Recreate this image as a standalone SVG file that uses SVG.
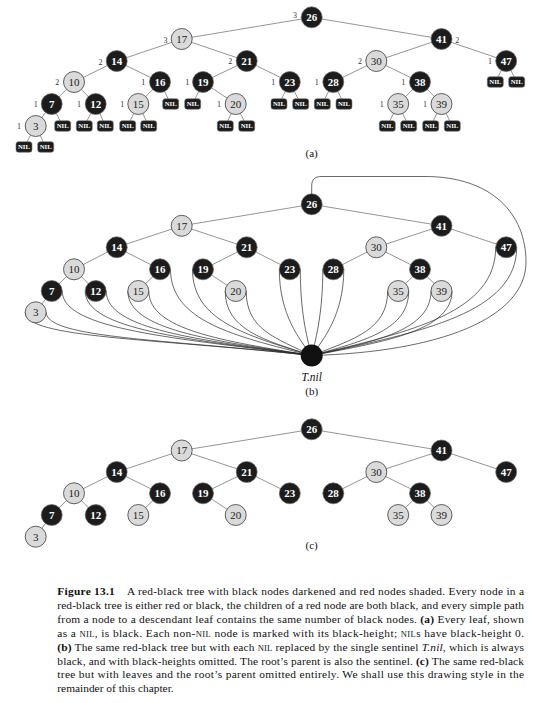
<svg xmlns="http://www.w3.org/2000/svg" width="558" height="703" viewBox="0 0 558 703">
<style>
.e{stroke:#7a7a7a;stroke-width:.8;fill:none}
.cv{stroke:#2a2a2a;stroke-width:.7;fill:none}
.b circle{fill:#1c1c1c;stroke:#6a6a6a;stroke-width:.7}
.r circle{fill:#dadada;stroke:#3a3a3a;stroke-width:.8}
.b text,.r text{font-family:"Liberation Serif",serif;font-size:11px;text-anchor:middle}
.b text{fill:#fff;font-weight:bold}
.r text{fill:#222}
.b text.bh,.r text.bh{font-size:8px;font-weight:normal;fill:#333}
.nil rect{fill:#1c1c1c;stroke:#777;stroke-width:.6}
.nil text{fill:#fff;font-family:"Liberation Serif",serif;font-weight:bold;font-size:6.8px;text-anchor:middle}
.lbl{font-family:"Liberation Serif",serif;font-size:11px;text-anchor:middle;fill:#111}
.cap{font-family:"Liberation Serif",serif;font-size:11.4px;fill:#111}
.sc{font-size:8.6px}
</style>
<rect width="558" height="703" fill="#fff"/>

<!-- ===== (a) ===== -->
<g id="a-connectors">
<path class="e" d="M311.7,17.3L181.7,39"/>
<path class="e" d="M311.7,17.3L441.5,39"/>
<path class="e" d="M181.7,39L116.7,61"/>
<path class="e" d="M181.7,39L246.7,61"/>
<path class="e" d="M441.5,39L376.3,61"/>
<path class="e" d="M441.5,39L506.2,61"/>
<path class="e" d="M116.7,61L74,82"/>
<path class="e" d="M116.7,61L160,82"/>
<path class="e" d="M246.7,61L203,82"/>
<path class="e" d="M246.7,61L289.8,82"/>
<path class="e" d="M376.3,61L333.3,82"/>
<path class="e" d="M376.3,61L420,82"/>
<path class="e" d="M74,82L51.7,104"/>
<path class="e" d="M74,82L95.7,104"/>
<path class="e" d="M160,82L138.3,104"/>
<path class="e" d="M203,82L235.7,104"/>
<path class="e" d="M420,82L398.2,104"/>
<path class="e" d="M420,82L441.5,104"/>
<path class="e" d="M51.7,104L35.7,126"/>
<path class="e" d="M35.7,126L24,147"/>
<path class="e" d="M35.7,126L45.7,147"/>
<path class="e" d="M51.7,104L62.7,126"/>
<path class="e" d="M95.7,104L84.3,126"/>
<path class="e" d="M95.7,104L105.3,126"/>
<path class="e" d="M138.3,104L127.7,126"/>
<path class="e" d="M138.3,104L148.7,126"/>
<path class="e" d="M160,82L170.7,104"/>
<path class="e" d="M203,82L192.7,104"/>
<path class="e" d="M235.7,104L225.3,126"/>
<path class="e" d="M235.7,104L246.7,126"/>
<path class="e" d="M289.8,82L279,104"/>
<path class="e" d="M289.8,82L300.7,104"/>
<path class="e" d="M333.3,82L322.3,104"/>
<path class="e" d="M333.3,82L344,104"/>
<path class="e" d="M398.2,104L387.3,126"/>
<path class="e" d="M398.2,104L408.7,126"/>
<path class="e" d="M441.5,104L430.7,126"/>
<path class="e" d="M441.5,104L452.3,126"/>
<path class="e" d="M506.2,61L495.3,82"/>
<path class="e" d="M506.2,61L516.7,82"/>
</g>
<g id="a-26" class="b" transform="translate(311.7,17.3)"><circle r="10.5"/><text y="3.8">26</text><text class="bh" x="-16.7" y="0.3">3</text></g>
<g id="a-17" class="r" transform="translate(181.7,39)"><circle r="10.5"/><text y="3.8">17</text><text class="bh" x="-16.2" y="3.5">3</text></g>
<g id="a-41" class="b" transform="translate(441.5,39)"><circle r="10.5"/><text y="3.8">41</text><text class="bh" x="15.8" y="3.5">2</text></g>
<g id="a-14" class="b" transform="translate(116.7,61)"><circle r="10.5"/><text y="3.8">14</text><text class="bh" x="-16.2" y="3.5">2</text></g>
<g id="a-21" class="b" transform="translate(246.7,61)"><circle r="10.5"/><text y="3.8">21</text><text class="bh" x="-16.5" y="3.2">2</text></g>
<g id="a-30" class="r" transform="translate(376.3,61)"><circle r="10.5"/><text y="3.8">30</text><text class="bh" x="-16.3" y="3.2">2</text></g>
<g id="a-47" class="b" transform="translate(506.2,61)"><circle r="10.5"/><text y="3.8">47</text><text class="bh" x="-16.2" y="3.4">1</text></g>
<g id="a-10" class="r" transform="translate(74,82)"><circle r="10.5"/><text y="3.8">10</text><text class="bh" x="-16.7" y="3">2</text></g>
<g id="a-16" class="b" transform="translate(160,82)"><circle r="10.5"/><text y="3.8">16</text><text class="bh" x="-16.7" y="3">1</text></g>
<g id="a-19" class="b" transform="translate(203,82)"><circle r="10.5"/><text y="3.8">19</text><text class="bh" x="-15.7" y="3">1</text></g>
<g id="a-23" class="b" transform="translate(289.8,82)"><circle r="10.5"/><text y="3.8">23</text><text class="bh" x="-16.5" y="3">1</text></g>
<g id="a-28" class="b" transform="translate(333.3,82)"><circle r="10.5"/><text y="3.8">28</text><text class="bh" x="-16.6" y="3">1</text></g>
<g id="a-38" class="b" transform="translate(420,82)"><circle r="10.5"/><text y="3.8">38</text><text class="bh" x="-16.7" y="3">1</text></g>
<g id="a-7" class="b" transform="translate(51.7,104)"><circle r="10.5"/><text y="3.8">7</text><text class="bh" x="-16" y="3">1</text></g>
<g id="a-12" class="b" transform="translate(95.7,104)"><circle r="10.5"/><text y="3.8">12</text><text class="bh" x="-16.7" y="3">1</text></g>
<g id="a-15" class="r" transform="translate(138.3,104)"><circle r="10.5"/><text y="3.8">15</text><text class="bh" x="-16" y="3">1</text></g>
<g id="a-20" class="r" transform="translate(235.7,104)"><circle r="10.5"/><text y="3.8">20</text><text class="bh" x="-16.7" y="3">1</text></g>
<g id="a-35" class="r" transform="translate(398.2,104)"><circle r="10.5"/><text y="3.8">35</text><text class="bh" x="-16.5" y="3">1</text></g>
<g id="a-39" class="r" transform="translate(441.5,104)"><circle r="10.5"/><text y="3.8">39</text><text class="bh" x="-16.5" y="3">1</text></g>
<g id="a-3" class="r" transform="translate(35.7,126)"><circle r="10.5"/><text y="3.8">3</text><text class="bh" x="-16.7" y="3">1</text></g>
<g id="a-nil-3L" class="nil" transform="translate(24,147)"><rect x="-8" y="-5.3" width="16" height="10.6" rx="2.5"/><text y="2.4">NIL</text></g>
<g id="a-nil-3R" class="nil" transform="translate(45.7,147)"><rect x="-8" y="-5.3" width="16" height="10.6" rx="2.5"/><text y="2.4">NIL</text></g>
<g id="a-nil-7R" class="nil" transform="translate(62.7,126)"><rect x="-8" y="-5.3" width="16" height="10.6" rx="2.5"/><text y="2.4">NIL</text></g>
<g id="a-nil-12L" class="nil" transform="translate(84.3,126)"><rect x="-8" y="-5.3" width="16" height="10.6" rx="2.5"/><text y="2.4">NIL</text></g>
<g id="a-nil-12R" class="nil" transform="translate(105.3,126)"><rect x="-8" y="-5.3" width="16" height="10.6" rx="2.5"/><text y="2.4">NIL</text></g>
<g id="a-nil-15L" class="nil" transform="translate(127.7,126)"><rect x="-8" y="-5.3" width="16" height="10.6" rx="2.5"/><text y="2.4">NIL</text></g>
<g id="a-nil-15R" class="nil" transform="translate(148.7,126)"><rect x="-8" y="-5.3" width="16" height="10.6" rx="2.5"/><text y="2.4">NIL</text></g>
<g id="a-nil-16R" class="nil" transform="translate(170.7,104)"><rect x="-8" y="-5.3" width="16" height="10.6" rx="2.5"/><text y="2.4">NIL</text></g>
<g id="a-nil-19L" class="nil" transform="translate(192.7,104)"><rect x="-8" y="-5.3" width="16" height="10.6" rx="2.5"/><text y="2.4">NIL</text></g>
<g id="a-nil-20L" class="nil" transform="translate(225.3,126)"><rect x="-8" y="-5.3" width="16" height="10.6" rx="2.5"/><text y="2.4">NIL</text></g>
<g id="a-nil-20R" class="nil" transform="translate(246.7,126)"><rect x="-8" y="-5.3" width="16" height="10.6" rx="2.5"/><text y="2.4">NIL</text></g>
<g id="a-nil-23L" class="nil" transform="translate(279,104)"><rect x="-8" y="-5.3" width="16" height="10.6" rx="2.5"/><text y="2.4">NIL</text></g>
<g id="a-nil-23R" class="nil" transform="translate(300.7,104)"><rect x="-8" y="-5.3" width="16" height="10.6" rx="2.5"/><text y="2.4">NIL</text></g>
<g id="a-nil-28L" class="nil" transform="translate(322.3,104)"><rect x="-8" y="-5.3" width="16" height="10.6" rx="2.5"/><text y="2.4">NIL</text></g>
<g id="a-nil-28R" class="nil" transform="translate(344,104)"><rect x="-8" y="-5.3" width="16" height="10.6" rx="2.5"/><text y="2.4">NIL</text></g>
<g id="a-nil-35L" class="nil" transform="translate(387.3,126)"><rect x="-8" y="-5.3" width="16" height="10.6" rx="2.5"/><text y="2.4">NIL</text></g>
<g id="a-nil-35R" class="nil" transform="translate(408.7,126)"><rect x="-8" y="-5.3" width="16" height="10.6" rx="2.5"/><text y="2.4">NIL</text></g>
<g id="a-nil-39L" class="nil" transform="translate(430.7,126)"><rect x="-8" y="-5.3" width="16" height="10.6" rx="2.5"/><text y="2.4">NIL</text></g>
<g id="a-nil-39R" class="nil" transform="translate(452.3,126)"><rect x="-8" y="-5.3" width="16" height="10.6" rx="2.5"/><text y="2.4">NIL</text></g>
<g id="a-nil-47L" class="nil" transform="translate(495.3,82)"><rect x="-8" y="-5.3" width="16" height="10.6" rx="2.5"/><text y="2.4">NIL</text></g>
<g id="a-nil-47R" class="nil" transform="translate(516.7,82)"><rect x="-8" y="-5.3" width="16" height="10.6" rx="2.5"/><text y="2.4">NIL</text></g>
<text class="lbl" x="311.7" y="156.8">(a)</text>

<!-- ===== (b) ===== -->
<g id="b-connectors">
<path class="cv" d="M25.2,312.3C25.2,338.2 154.1,338.3 311.7,355.5"/>
<path class="cv" d="M46.2,312.3C46.2,338.2 165.7,339.3 311.7,355.5"/>
<path class="cv" d="M62.2,291C62.2,329.7 174.5,338.1 311.7,355.5"/>
<path class="cv" d="M85.2,291C85.2,329.7 187.1,339.1 311.7,355.5"/>
<path class="cv" d="M106.2,291C106.2,329.7 198.7,339.8 311.7,355.5"/>
<path class="cv" d="M127.8,291C127.8,329.7 210.6,340.4 311.7,355.5"/>
<path class="cv" d="M148.8,291C148.8,329.7 222.1,340.9 311.7,355.5"/>
<path class="cv" d="M170.5,269.3C170.5,321 234,336.2 311.7,355.5"/>
<path class="cv" d="M192.5,269.3C192.5,321 246.1,335.2 311.7,355.5"/>
<path class="cv" d="M225.2,291C225.2,329.7 264.1,340.1 311.7,355.5"/>
<path class="cv" d="M246.2,291C246.2,329.7 275.7,337.9 311.7,355.5"/>
<path class="cv" d="M279.3,269.3C279.3,315 300,340 311.7,355.5"/>
<path class="cv" d="M300.3,269.3C300.3,310 306,335 311.7,355.5"/>
<path class="cv" d="M322.8,269.3C322.8,310 317,335 311.7,355.5"/>
<path class="cv" d="M343.8,269.3C343.8,315 323,340 311.7,355.5"/>
<path class="cv" d="M387.7,291C387.7,329.7 353.5,339.3 311.7,355.5"/>
<path class="cv" d="M408.7,291C408.7,329.7 365.1,340.7 311.7,355.5"/>
<path class="cv" d="M431,291C431,329.7 377.3,341.3 311.7,355.5"/>
<path class="cv" d="M452,291C452,329.7 388.9,341.2 311.7,355.5"/>
<path class="cv" d="M495.7,247.3C495.7,312.2 412.9,331.4 311.7,355.5"/>
<path class="cv" d="M516.7,247.3C516.7,312.2 424.5,331.7 311.7,355.5"/>
<path class="cv" d="M311.7,204.3L311.7,186C311.7,179 315,176.5 322,176.5L425,176.5C492,176.5 526,214 526,262C526,318 440,352 311.7,355.5"/>
<path class="e" d="M311.7,204.3L181.7,225.8"/>
<path class="e" d="M311.7,204.3L441.5,225.8"/>
<path class="e" d="M181.7,225.8L116.7,247.3"/>
<path class="e" d="M181.7,225.8L246.7,247.3"/>
<path class="e" d="M441.5,225.8L376.3,247.3"/>
<path class="e" d="M441.5,225.8L506.2,247.3"/>
<path class="e" d="M116.7,247.3L74,269.3"/>
<path class="e" d="M116.7,247.3L160,269.3"/>
<path class="e" d="M246.7,247.3L203,269.3"/>
<path class="e" d="M246.7,247.3L289.8,269.3"/>
<path class="e" d="M376.3,247.3L333.3,269.3"/>
<path class="e" d="M376.3,247.3L420,269.3"/>
<path class="e" d="M74,269.3L51.7,291"/>
<path class="e" d="M74,269.3L95.7,291"/>
<path class="e" d="M160,269.3L138.3,291"/>
<path class="e" d="M203,269.3L235.7,291"/>
<path class="e" d="M420,269.3L398.2,291"/>
<path class="e" d="M420,269.3L441.5,291"/>
<path class="e" d="M51.7,291L35.7,312.3"/>
</g>
<g id="b-26" class="b" transform="translate(311.7,204.3)"><circle r="10.5"/><text y="3.8">26</text></g>
<g id="b-17" class="r" transform="translate(181.7,225.8)"><circle r="10.5"/><text y="3.8">17</text></g>
<g id="b-41" class="b" transform="translate(441.5,225.8)"><circle r="10.5"/><text y="3.8">41</text></g>
<g id="b-14" class="b" transform="translate(116.7,247.3)"><circle r="10.5"/><text y="3.8">14</text></g>
<g id="b-21" class="b" transform="translate(246.7,247.3)"><circle r="10.5"/><text y="3.8">21</text></g>
<g id="b-30" class="r" transform="translate(376.3,247.3)"><circle r="10.5"/><text y="3.8">30</text></g>
<g id="b-47" class="b" transform="translate(506.2,247.3)"><circle r="10.5"/><text y="3.8">47</text></g>
<g id="b-10" class="r" transform="translate(74,269.3)"><circle r="10.5"/><text y="3.8">10</text></g>
<g id="b-16" class="b" transform="translate(160,269.3)"><circle r="10.5"/><text y="3.8">16</text></g>
<g id="b-19" class="b" transform="translate(203,269.3)"><circle r="10.5"/><text y="3.8">19</text></g>
<g id="b-23" class="b" transform="translate(289.8,269.3)"><circle r="10.5"/><text y="3.8">23</text></g>
<g id="b-28" class="b" transform="translate(333.3,269.3)"><circle r="10.5"/><text y="3.8">28</text></g>
<g id="b-38" class="b" transform="translate(420,269.3)"><circle r="10.5"/><text y="3.8">38</text></g>
<g id="b-7" class="b" transform="translate(51.7,291)"><circle r="10.5"/><text y="3.8">7</text></g>
<g id="b-12" class="b" transform="translate(95.7,291)"><circle r="10.5"/><text y="3.8">12</text></g>
<g id="b-15" class="r" transform="translate(138.3,291)"><circle r="10.5"/><text y="3.8">15</text></g>
<g id="b-20" class="r" transform="translate(235.7,291)"><circle r="10.5"/><text y="3.8">20</text></g>
<g id="b-35" class="r" transform="translate(398.2,291)"><circle r="10.5"/><text y="3.8">35</text></g>
<g id="b-39" class="r" transform="translate(441.5,291)"><circle r="10.5"/><text y="3.8">39</text></g>
<g id="b-3" class="r" transform="translate(35.7,312.3)"><circle r="10.5"/><text y="3.8">3</text></g>
<g id="b-Tnil" transform="translate(311.7,355.5)"><circle r="11" fill="#111"/><text x="0" y="25" font-family="'Liberation Serif',serif" font-size="11.5" font-style="italic" text-anchor="middle" fill="#111">T.nil</text></g>
<text class="lbl" x="311.7" y="395">(b)</text>

<!-- ===== (c) ===== -->
<g id="c-connectors">
<path class="e" d="M311.7,429.3L181.7,450.5"/>
<path class="e" d="M311.7,429.3L441.5,450.5"/>
<path class="e" d="M181.7,450.5L116.7,472"/>
<path class="e" d="M181.7,450.5L246.7,472"/>
<path class="e" d="M441.5,450.5L376.3,472"/>
<path class="e" d="M441.5,450.5L506.2,472"/>
<path class="e" d="M116.7,472L74,493.3"/>
<path class="e" d="M116.7,472L160,493.3"/>
<path class="e" d="M246.7,472L203,493.3"/>
<path class="e" d="M246.7,472L289.8,493.3"/>
<path class="e" d="M376.3,472L333.3,493.3"/>
<path class="e" d="M376.3,472L420,493.3"/>
<path class="e" d="M74,493.3L51.7,515"/>
<path class="e" d="M74,493.3L95.7,515"/>
<path class="e" d="M160,493.3L138.3,515"/>
<path class="e" d="M203,493.3L235.7,515"/>
<path class="e" d="M420,493.3L398.2,515"/>
<path class="e" d="M420,493.3L441.5,515"/>
<path class="e" d="M51.7,515L35.7,536.7"/>
</g>
<g id="c-26" class="b" transform="translate(311.7,429.3)"><circle r="10.5"/><text y="3.8">26</text></g>
<g id="c-17" class="r" transform="translate(181.7,450.5)"><circle r="10.5"/><text y="3.8">17</text></g>
<g id="c-41" class="b" transform="translate(441.5,450.5)"><circle r="10.5"/><text y="3.8">41</text></g>
<g id="c-14" class="b" transform="translate(116.7,472)"><circle r="10.5"/><text y="3.8">14</text></g>
<g id="c-21" class="b" transform="translate(246.7,472)"><circle r="10.5"/><text y="3.8">21</text></g>
<g id="c-30" class="r" transform="translate(376.3,472)"><circle r="10.5"/><text y="3.8">30</text></g>
<g id="c-47" class="b" transform="translate(506.2,472)"><circle r="10.5"/><text y="3.8">47</text></g>
<g id="c-10" class="r" transform="translate(74,493.3)"><circle r="10.5"/><text y="3.8">10</text></g>
<g id="c-16" class="b" transform="translate(160,493.3)"><circle r="10.5"/><text y="3.8">16</text></g>
<g id="c-19" class="b" transform="translate(203,493.3)"><circle r="10.5"/><text y="3.8">19</text></g>
<g id="c-23" class="b" transform="translate(289.8,493.3)"><circle r="10.5"/><text y="3.8">23</text></g>
<g id="c-28" class="b" transform="translate(333.3,493.3)"><circle r="10.5"/><text y="3.8">28</text></g>
<g id="c-38" class="b" transform="translate(420,493.3)"><circle r="10.5"/><text y="3.8">38</text></g>
<g id="c-7" class="b" transform="translate(51.7,515)"><circle r="10.5"/><text y="3.8">7</text></g>
<g id="c-12" class="b" transform="translate(95.7,515)"><circle r="10.5"/><text y="3.8">12</text></g>
<g id="c-15" class="r" transform="translate(138.3,515)"><circle r="10.5"/><text y="3.8">15</text></g>
<g id="c-20" class="r" transform="translate(235.7,515)"><circle r="10.5"/><text y="3.8">20</text></g>
<g id="c-35" class="r" transform="translate(398.2,515)"><circle r="10.5"/><text y="3.8">35</text></g>
<g id="c-39" class="r" transform="translate(441.5,515)"><circle r="10.5"/><text y="3.8">39</text></g>
<g id="c-3" class="r" transform="translate(35.7,536.7)"><circle r="10.5"/><text y="3.8">3</text></g>
<text class="lbl" x="311.7" y="548.5">(c)</text>

<!-- ===== caption ===== -->
<g id="caption" class="cap">
<text x="57.3" y="595" textLength="466.7" lengthAdjust="spacing"><tspan font-weight="bold">Figure 13.1</tspan>&#160;&#160;&#160; A red-black tree with black nodes darkened and red nodes shaded. Every node in a</text>
<text x="57.3" y="608.9" textLength="466.7" lengthAdjust="spacing">red-black tree is either red or black, the children of a red node are both black, and every simple path</text>
<text x="57.3" y="622.8" textLength="466.7" lengthAdjust="spacing">from a node to a descendant leaf contains the same number of black nodes. <tspan font-weight="bold">(a)</tspan> Every leaf, shown</text>
<text x="57.3" y="636.7" textLength="466.7" lengthAdjust="spacing">as a <tspan class="sc">NIL</tspan>, is black. Each non-<tspan class="sc">NIL</tspan> node is marked with its black-height; <tspan class="sc">NIL</tspan>s have black-height 0.</text>
<text x="57.3" y="650.6" textLength="466.7" lengthAdjust="spacing"><tspan font-weight="bold">(b)</tspan> The same red-black tree but with each <tspan class="sc">NIL</tspan> replaced by the single sentinel <tspan font-style="italic">T.nil</tspan>, which is always</text>
<text x="57.3" y="664.5" textLength="466.7" lengthAdjust="spacing">black, and with black-heights omitted. The root’s parent is also the sentinel. <tspan font-weight="bold">(c)</tspan> The same red-black</text>
<text x="57.3" y="678.4" textLength="466.7" lengthAdjust="spacing">tree but with leaves and the root’s parent omitted entirely. We shall use this drawing style in the</text>
<text x="57.3" y="692.3">remainder of this chapter.</text>
</g>
</svg>
